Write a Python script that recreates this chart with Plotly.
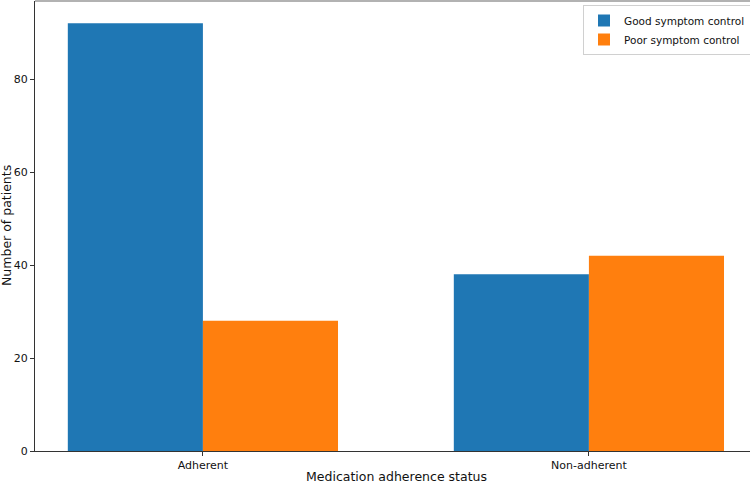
import plotly.graph_objects as go

categories = ["Adherent", "Non-adherent"]
good_control = [92, 38]
poor_control = [28, 42]
series_names = ["Good symptom control", "Poor symptom control"]
y_ticks = [0, 20, 40, 60, 80]

x_pos = list(range(len(categories)))

fig = go.Figure()
fig.add_trace(go.Bar(x=x_pos, y=good_control, name=series_names[0],
                     marker=dict(color="#1f77b4", line=dict(width=0))))
fig.add_trace(go.Bar(x=x_pos, y=poor_control, name=series_names[1],
                     marker=dict(color="#ff7f0e", line=dict(width=0))))

W, H = 750, 483
L, R, T, B = 35, 0, 1, 32
pw = W - L - R
ph = H - T - B
unit = 386.0
x0 = -0.435
x1 = x0 + pw / unit

fig.update_layout(
    width=W, height=H,
    margin=dict(l=L, r=R, t=T, b=B, pad=0, autoexpand=False),
    paper_bgcolor="white", plot_bgcolor="white",
    barmode="group", bargap=0.3, bargroupgap=0,
    font=dict(family="DejaVu Sans", size=11, color="#111"),
    xaxis=dict(range=[x0, x1], tickvals=x_pos, ticktext=categories,
               showgrid=False, zeroline=False, showline=True, linecolor="#333",
               linewidth=1, ticks="outside", ticklen=4, tickcolor="#333",
               tickfont=dict(size=11, color="#111"), automargin=False),
    yaxis=dict(range=[0, ph / 4.65], tickvals=y_ticks,
               showgrid=False, zeroline=False, showline=True, linecolor="#333",
               linewidth=1, ticks="outside", ticklen=4, tickcolor="#333",
               tickfont=dict(size=11, color="#111"), automargin=False),
    legend=dict(x=(583 - L) / pw, y=1 - 4 / ph, xanchor="left", yanchor="top",
                bgcolor="rgba(255,255,255,0.9)", bordercolor="#d0d0d0", borderwidth=1,
                font=dict(size=10.5, color="#111"), itemwidth=30,
                tracegroupgap=0),
    showlegend=True,
)

fig.add_shape(type="line", xref="paper", yref="paper", x0=0, x1=1, y0=1, y1=1,
              line=dict(color="#999", width=1.5))

fig.add_annotation(text="Medication adherence status", xref="paper", yref="paper",
                   x=(396 - L) / pw, y=-(477 - T - ph) / ph, xanchor="center", yanchor="middle",
                   showarrow=False, font=dict(size=12.5, color="#111"))
fig.add_annotation(text="Number of patients", xref="paper", yref="paper",
                   x=-(L - 6) / pw, y=0.5, xanchor="center", yanchor="middle",
                   textangle=-90, showarrow=False, font=dict(size=12.5, color="#111"))

fig.write_html("out.html")
